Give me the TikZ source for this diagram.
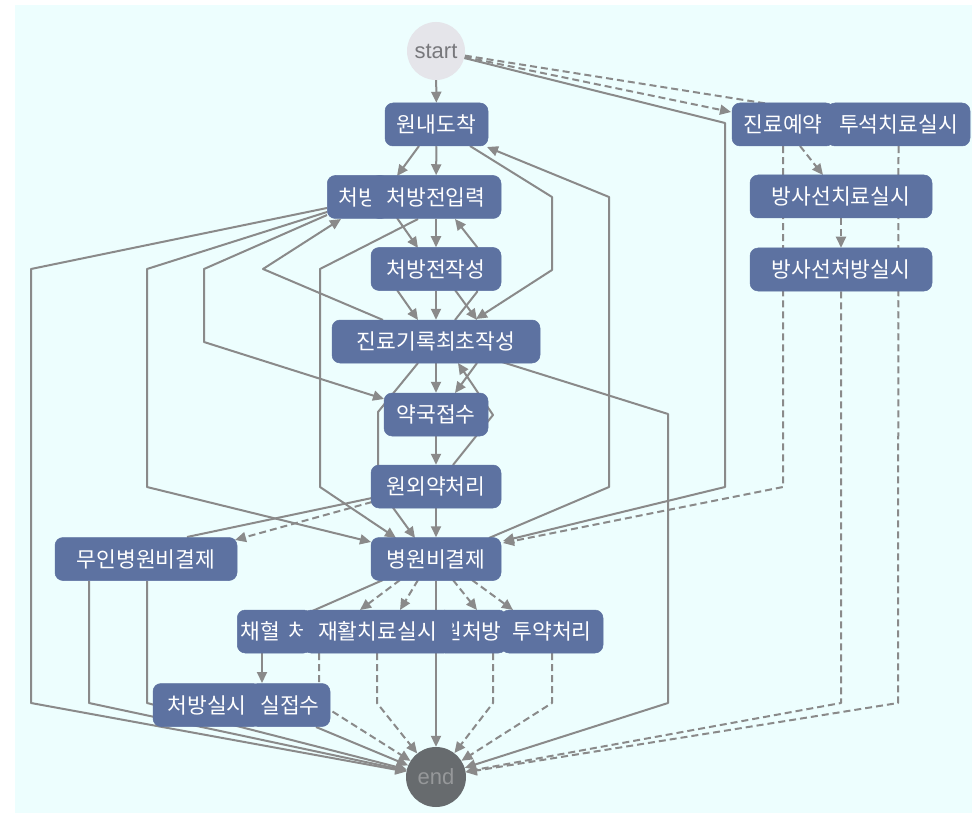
\documentclass[tikz,border=0pt]{standalone}
\usepackage{fontspec}
\setmainfont{Liberation Sans}
\newfontfamily\kr{Noto Sans CJK KR}
\usetikzlibrary{arrows.meta}
\definecolor{bgcyan}{RGB}{237,254,254}
\definecolor{actblue}{RGB}{93,114,161}
\definecolor{edgegray}{RGB}{138,138,138}
\definecolor{startfill}{RGB}{229,229,234}
\definecolor{starttext}{RGB}{120,120,124}
\definecolor{endfill}{RGB}{103,107,110}
\definecolor{endtext}{RGB}{150,152,154}
\pgfdeclarelayer{bg}
\pgfdeclarelayer{edges}
\pgfsetlayers{bg,edges,main}
\begin{document}
\begin{tikzpicture}[x=1pt,y=-1pt,
  act/.style={rectangle, rounded corners=8pt, fill=actblue, draw=actblue, line width=0.5pt,
    text=white, minimum height=43pt, inner xsep=0pt, inner ysep=0pt,
    font=\kr\fontsize{21.5}{24}\selectfont},
  e/.style={draw=edgegray, line width=2pt, line join=round},
  ea/.style={e, -{Triangle[length=11pt,width=10pt]}},
  d/.style={e, dash pattern=on 7pt off 4pt},
  da/.style={d, -{Triangle[length=11pt,width=10pt]}},
]
\begin{pgfonlayer}{bg}
  \fill[white] (0,0) rectangle (972,813);
  \fill[bgcyan] (15,5) rectangle (972,813);
\end{pgfonlayer}
\useasboundingbox (0,0) rectangle (972,813);

% activities (later nodes cover earlier ones where they overlap)
\node[circle, fill=startfill, minimum size=58pt, inner sep=0pt, text=starttext,
  font=\fontsize{22}{22}\selectfont] (st) at (436,51) {start};
\node[act, minimum width=103pt] (wndc) at (436.5,124.5) {원내도착};
\node[act, anchor=west, inner xsep=11pt] (cbb) at (327,197) {처방};
\node[act, minimum width=130pt] (cbi) at (436,197) {처방전입력};
\node[act, minimum width=130pt] (cbj) at (436,269) {처방전작성};
\node[act, minimum width=208pt] (jlgr) at (436,341.5) {진료기록최초작성};
\node[act, minimum width=104pt] (ygjs) at (436,414.5) {약국접수};
\node[act, minimum width=130pt] (wwyc) at (436,486.5) {원외약처리};
\node[act, minimum width=130pt] (bwbg) at (436,559) {병원비결제};
\node[act, minimum width=182pt] (mibg) at (146,559) {무인병원비결제};
\node[act, minimum width=143pt] (tsci) at (898.5,124.5) {투석치료실시};
\node[act, minimum width=102pt] (jryy) at (783,124.5) {진료예약};
\node[act, minimum width=182pt] (bscl) at (841,196.5) {방사선치료실시};
\node[act, minimum width=182pt] (bscb) at (841,269.5) {방사선처방실시};
\node[act, anchor=west, inner xsep=3pt] (chhl) at (237,631.5) {채혈\hspace{9pt}처};
\node[act, anchor=west, inner xsep=5pt] (twcb) at (437,631.5) {원처방};
\node[act, minimum width=149pt] (jhcl) at (377.5,631.5) {재활치료실시};
\node[act, minimum width=102pt] (tycl) at (552,631.5) {투약처리};
\node[act, minimum width=108pt] (cbss) at (207,705) {처방실시};
\node[act, minimum width=80pt] (sljs) at (290,705) {실접수};
\node[circle, fill=endfill, minimum size=60pt, inner sep=0pt, text=endtext,
  font=\fontsize{22}{22}\selectfont] (fin) at (436,777) {end};

\begin{pgfonlayer}{edges}
  % from start
  \draw[ea] (st) -- (wndc);
  \draw[da] (st) -- (731,112);
  \draw[da] (st) -- (tsci);
  \draw[ea] (st) -- (725,123) -- (725,487) -- (503,541);
  % right-hand branch
  \draw[da] (jryy.south) -- (783,487) -- (503,543);
  \draw[da] (800,146) -- (823,175);
  \draw[da] (tsci.south) -- (898,703) -- (fin);
  \draw[da] (bscl) -- (bscb);
  \draw[da] (bscb.south) -- (841,703) -- (fin);
  % central column
  \draw[ea] (wndc) -- (cbi);
  \draw[ea] (419,146) -- (397,176);
  \draw[ea] (470,146) -- (552,197) -- (552,270) -- (476,319);
  \draw[ea] (489,538) -- (609,487) -- (609,197) -- (487,147);
  \draw[ea] (cbi) -- (cbj);
  \draw[ea] (397,218) -- (418,248);
  \draw[ea] (455,320) -- (477,292) -- (477,247) -- (455,219);
  \draw[ea] (cbj) -- (jlgr);
  \draw[ea] (397,290) -- (418,320);
  \draw[ea] (455,290) -- (477,320);
  \draw[ea] (jlgr) -- (ygjs);
  \draw[ea] (477,363) -- (455,393);
  \draw[ea] (453,465) -- (493,415) -- (458,363);
  \draw[ea] (418,363) -- (378,412) -- (378,487) -- (415,538);
  \draw[ea] (ygjs) -- (wwyc);
  \draw[ea] (wwyc) -- (bwbg);
  \draw[da] (372,502) -- (235,540);
  \draw[e] (187,537) -- (372,498);
  % left detours
  \draw[ea] (327,208) -- (31,269) -- (31,703) -- (fin);
  \draw[ea] (327,212) -- (147,269) -- (147,487) -- (371,542);
  \draw[ea] (327,215) -- (204,269) -- (204,342) -- (384,399);
  \draw[ea] (383,320) -- (263,269) -- (341,219);
  \draw[ea] (418,219) -- (320,269) -- (320,487) -- (396,538);
  \draw[ea] (502,362) -- (668,414) -- (668,703) -- (fin);
  \draw[ea] (89,581) -- (89,703) -- (fin);
  \draw[ea] (147,581) -- (147,703) -- (fin);
  \draw[ea] (316,727) -- (fin);
  % below payment
  \draw[e] (383,580) -- (310,612);
  \draw[da] (400,580) -- (360,610);
  \draw[da] (418,580) -- (400,610);
  \draw[ea] (bwbg) -- (fin);
  \draw[da] (453,580) -- (477,610);
  \draw[da] (472,580) -- (513,610);
  \draw[ea] (262,653) -- (262,683);
  \draw[da] (319,653) -- (319,703) -- (fin);
  \draw[da] (377,653) -- (377,703) -- (fin);
  \draw[da] (493,653) -- (493,703) -- (fin);
  \draw[da] (552,653) -- (552,703) -- (fin);
\end{pgfonlayer}
\end{tikzpicture}
\end{document}
